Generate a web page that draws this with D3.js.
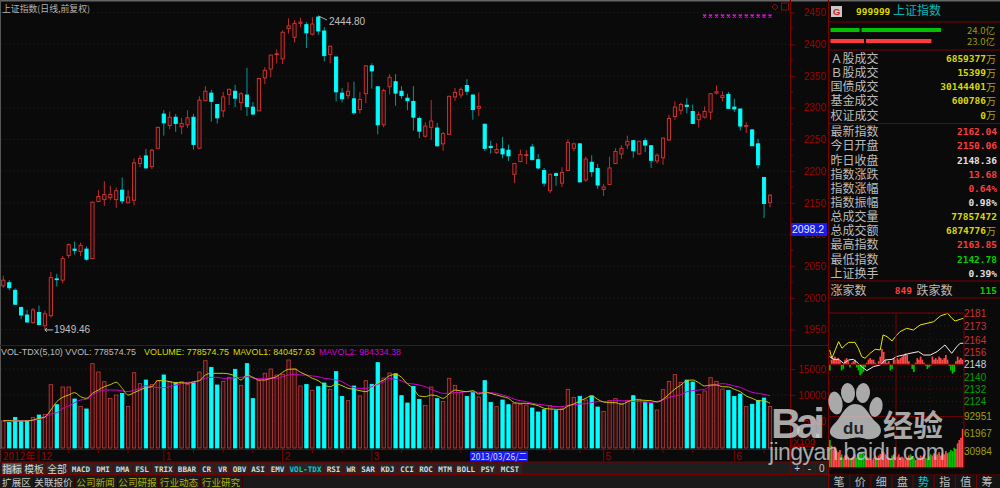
<!DOCTYPE html>
<html>
<head>
<meta charset="utf-8">
<style>
  html, body { margin: 0; padding: 0; background: #0a0a0a; overflow: hidden; }
  svg { display: block; }
  text { font-family: "Liberation Sans", sans-serif; }
  .cjk { font-family: "Noto Sans CJK SC", sans-serif; }
  .mono { font-family: "DejaVu Sans Mono", monospace; font-weight: bold; }
</style>
<script src="https://cdnjs.cloudflare.com/ajax/libs/d3/7.8.5/d3.min.js"></script>
</head>
<body>
<div id="chart"></div>
<script>
// Daily candles
const opens = [2019,2024,2012,1985,1973,1961,1977,1956,1972,2030,2028,2067,2077,2073,2077,2062,2152,2155,2158,2155,2170,2150,2154,2212,2224,2207,2236,2290,2272,2285,2270,2273,2285,2236,2311,2323,2305,2295,2321,2326,2308,2320,2301,2295,2347,2361,2384,2377,2425,2411,2433,2431,2416,2443,2421,2384,2380,2323,2319,2314,2297,2322,2366,2333,2273,2333,2341,2326,2315,2310,2283,2255,2269,2268,2243,2258,2317,2320,2335,2320,2299,2274,2239,2229,2235,2233,2195,2215,2225,2238,2218,2201,2169,2196,2181,2201,2236,2243,2186,2214,2204,2171,2179,2212,2227,2241,2248,2227,2248,2240,2216,2221,2249,2286,2296,2304,2294,2281,2285,2293,2323,2316,2321,2301,2298,2270,2265,2243,2190,2150.06];
const highs = [2035,2028,2015,1986,1981,1984,1988,1980,2041,2038,2066,2086,2089,2087,2081,2152,2170,2184,2177,2174,2190,2170,2220,2225,2235,2235,2270,2296,2294,2290,2284,2296,2290,2318,2334,2328,2306,2325,2330,2336,2325,2363,2309,2347,2364,2383,2392,2422,2441,2438,2442,2435,2443,2444.8,2427,2398,2380,2331,2340,2341,2325,2367,2370,2333,2330,2353,2353,2334,2322,2334,2286,2277,2312,2276,2262,2319,2331,2332,2345,2321,2324,2274,2248,2244,2254,2242,2213,2234,2233,2243,2227,2205,2196,2198,2206,2250,2245,2244,2223,2225,2211,2180,2223,2236,2241,2256,2249,2248,2252,2241,2228,2253,2289,2310,2308,2315,2305,2294,2302,2323,2335,2326,2325,2314,2298,2277,2266,2251,2191,2163.85];
const lows = [2016,2012,1989,1967,1961,1959,1957,1949.46,1969,2018,2023,2063,2068,2066,2059,2061,2151,2145,2154,2142,2148,2149,2146,2206,2204,2203,2235,2256,2266,2262,2258,2268,2234,2235,2310,2278,2275,2285,2304,2301,2296,2287,2288,2295,2337,2348,2370,2369,2417,2403,2427,2394,2414,2415,2373,2370,2310,2308,2314,2289,2291,2307,2330,2258,2269,2321,2303,2314,2296,2264,2252,2253,2249,2238,2232,2257,2311,2315,2320,2281,2287,2232,2228,2227,2220,2216,2181,2214,2211,2217,2203,2176,2165,2177,2175,2200,2231,2182,2183,2191,2172,2161,2178,2211,2219,2235,2221,2226,2230,2205,2212,2210,2248,2281,2289,2291,2274,2269,2283,2281,2321,2310,2298,2293,2264,2260,2240,2204,2126,2142.78];
const closes = [2028,2016,1990,1973,1962,1981,1958,1975,2032,2029,2062,2084,2075,2083,2061,2151,2160,2163,2163,2169,2153,2159,2213,2220,2205,2233,2269,2276,2285,2275,2275,2284,2242,2312,2326,2310,2284,2317,2329,2315,2322,2302,2290,2346,2359,2383,2385,2419,2429,2433,2435,2418,2432,2421,2382,2397,2325,2314,2326,2292,2313,2366,2358,2273,2327,2348,2323,2319,2311,2285,2263,2271,2279,2240,2259,2318,2324,2329,2326,2297,2302,2236,2237,2234,2227,2224,2212,2226,2226,2218,2205,2181,2195,2193,2198,2245,2243,2183,2219,2199,2178,2175,2205,2231,2236,2247,2232,2247,2241,2217,2225,2252,2283,2301,2305,2302,2275,2289,2294,2322,2325,2319,2299,2298,2271,2272,2240,2210,2149,2162.04];

// Volume in units of 100 (the X100 box on the axis)
const volumes = [5000,4740,5700,4870,5060,5700,6150,6280,11990,8140,11540,11540,9230,7820,7310,16030,14420,12560,9360,10000,10320,7820,14290,12180,12880,11990,12760,13850,12560,12370,12560,12050,12370,14420,16600,15320,11920,12630,13400,14940,11860,16030,9300,12760,14170,15000,13850,13970,16730,15000,11730,12050,10900,11600,12310,11090,14490,9740,8910,11730,9810,12760,12050,16220,13270,14230,14100,9870,8460,11670,9170,8010,11540,9300,8780,13210,11860,10450,9740,10450,9620,12760,8590,7760,9040,8140,8400,8210,8080,7500,6730,7180,7950,6990,7310,11090,9550,9740,9040,9810,7690,6860,8910,9300,8400,8970,9870,9170,8650,8330,7120,11030,12630,13910,12440,12880,12500,10130,10770,13330,12630,11150,10900,9740,10190,7760,8210,8970,9420,7785.75];
const mavol1 = [5060,5060,5000,5000,5000,5190,5510,5770,7120,8720,9550,10000,10450,9680,9360,10320,10960,11600,11990,12440,11280,10000,10450,10960,11410,11600,12760,12760,12560,12370,12370,12240,12560,12760,13850,14170,14170,14170,14040,13650,12880,13850,13400,12880,12880,13210,13530,14360,14940,15000,14360,13850,13210,12760,11920,11600,12120,11790,11280,11090,10830,10640,11280,12370,12880,13720,13970,13400,12120,11280,9810,9680,10000,9810,9360,10190,10960,10770,10640,10830,10190,10510,10320,10000,9680,9360,8530,8400,8400,8210,7950,7440,7310,7240,7240,7880,8270,8850,9360,9870,9170,8650,8530,8530,8210,8650,9100,9040,8970,8910,8650,9170,10130,11150,11920,12760,12880,12370,11730,11920,11920,11600,11540,11090,10640,9810,9360,8910,8850,8404.58];
const mavol2 = [5060,5060,5060,5060,5060,5130,5320,5710,6350,6600,7440,7880,8530,9040,9170,10000,10640,10960,10960,10960,10770,10640,10960,11280,11790,11600,11410,11410,11600,11920,12180,12440,12440,12760,13210,13400,13400,13210,13210,13330,13400,13530,13270,13140,13140,13210,13210,13530,13850,13970,13850,13850,13650,13530,13210,13080,12880,12560,11920,11410,11280,11280,11600,12050,12560,13210,13010,12760,12240,12120,11920,11600,11090,10640,10320,10320,10450,10510,10640,10640,10510,10510,10450,10320,10000,9680,9170,8910,8720,8400,8210,8080,7880,7760,7760,8010,8140,8270,8330,8530,8720,8720,8850,8910,8910,8850,8780,8720,8650,8590,8780,9040,9550,9810,10060,10640,10830,10960,11090,11790,12050,12180,12050,11730,11470,10960,10510,10320,10130,9843.34];

// Axis labels and x positions on the candle index
const priceTicks = [2450,2400,2350,2300,2250,2200,2150,2100,2050,2000,1950];
const priceMinorTicks = [2425,2375,2325,2275,2225,2175,2125,2075,2025,1975];
const volumeTicks = [15000,10000,5000];
const monthLabels = ['12','1','2','3','5','6'];
const monthIdx = [6,27,47,62,101,123];
const weekIdx = [11,16,21,32,37,42,52,57,67,72,77,87,92,97,106,111,116,128];

// Magenta marks at the upper right of the price panel
const markIdx = [118,119,120,121,122,123,124,125,126,127,128,129];

// Side panel
const codeName = '上证指数';
const topLabels = ['Ａ股成交','Ｂ股成交','国债成交','基金成交','权证成交'];
const topValues = ['6859377','15399','30144401','600786','0'];
const statLabels = ['最新指数','今日开盘','昨日收盘','指数涨跌','指数涨幅','指数振幅','总成交量','总成交额','最高指数','最低指数','上证换手'];
const statValues = ['2162.04','2150.06','2148.36','13.68','0.64%','0.98%','77857472','6874776','2163.85','2142.78','0.39%'];
const statKinds = ['up','up','flat','up','up','flat','vol','volw','up','down','flat'];

// Intraday panel
const yellowMin = [2,6,12,18,24,30,36,47,53,59,65,74,83,92,97,104,113,119,127,139,151,163,175,187,199,212,219,225,234,240];
const yellowVal = [2157.3,2151.9,2157.3,2162.7,2158.4,2160.5,2162.2,2162.2,2158.4,2153,2151.9,2155.1,2157.7,2157.3,2167,2165.9,2163.1,2165.9,2169.1,2171.3,2170.2,2173.5,2174.5,2175.6,2179.3,2181,2177.8,2176,2177.1,2177.8];
const whiteMin = [2,9,18,27,36,44,53,59,68,80,92,101,113,121,133,145,160,169,181,193,207,219,228,234,240];
const whiteVal = [2153,2151.2,2151.2,2148.6,2150.8,2151.2,2148.6,2146.5,2143.9,2146.5,2147.6,2150.8,2151.2,2153,2154,2155.1,2156.2,2154,2154,2156.2,2160.5,2155.1,2159.4,2161.6,2161.6];
const flowBars = [-4,3,4,5,3,4,2,-4,-3,3,4,2,-2,1,2,3,-2,-4,-7,-6,-5,-2,1,3,4,3,3,1,0,2,5,10,8,3,1,2,-4,-3,4,3,4,3,4,5,6,7,6,2,0,-3,-5,1,4,3,5,3,1,-1,-3,-2,-1,5,3,4,3,5,4,3,4,6,3,-1,-4,-6,-5,2,5,3,4,3];
const miniVolume = [50,40,33,38,30,28,32,24,18,22,24,20,14,18,20,24,18,22,25,28,26,22,20,18,16,14,18,20,16,22,25,30,28,24,20,18,16,22,24,18,20,24,16,20,18,15,18,22,24,20,18,14,16,18,22,20,24,18,16,20,24,22,26,20,24,28,22,26,24,30,26,28,32,30,36,34,44,50,54,70];
const miniPriceLabels = [2181,2173,2164,2156,2148,2140,2132,2124];
const miniVolLabels = [92951,61967,30984];
const miniTabs = ['笔','价','细','盘','势','指','值','筹'];

// Buttons below the chart
const tabNames = ['指标','模板','全部','MACD','DMI','DMA','FSL','TRIX','BBAR','CR','VR','OBV','ASI','EMV','VOL-TDX','RSI','WR','SAR','KDJ','CCI','ROC','MTM','BOLL','PSY','MCST'];
const linkNames = ['扩展区','关联报价','公司新闻','公司研报','行业动态','行业研究'];

const width = 1000, height = 488;
const axisX = 790, sideX = 828;
const lineRed = '#7a0000', gridRed = '#5a0a0a', labelRed = '#a00000';
const candleRed = '#d83434', cyan = '#00ffff', wickCyan = '#009a9a';
const isUp = i => closes[i] >= opens[i];

const svg = d3.select('#chart').append('svg')
    .attr('width', width)
    .attr('height', height);

svg.append('rect').attr('width', width).attr('height', height).attr('fill', '#0a0a0a');
svg.append('rect').attr('width', width).attr('height', 1.5).attr('fill', '#666');
svg.append('rect').attr('width', 1).attr('height', 474).attr('fill', '#555');

// Scales
const xScale = d3.scaleLinear().domain([0, opens.length - 1]).range([3.3, 770]);
const yPrice = d3.scaleLinear().domain([1950, 2450]).range([329.6, 12.6]);
const yVolume = d3.scaleLinear().domain([0, 15000]).range([447, 369]);

// Grid
const grid = svg.append('g').attr('stroke', gridRed).attr('stroke-dasharray', '1,3');
grid.selectAll('.p').data(priceTicks).join('line').attr('class', 'p')
    .attr('x1', 1).attr('x2', axisX).attr('y1', d => yPrice(d)).attr('y2', d => yPrice(d));
grid.selectAll('.v').data(volumeTicks).join('line').attr('class', 'v')
    .attr('x1', 1).attr('x2', axisX).attr('y1', d => yVolume(d)).attr('y2', d => yVolume(d));

// Candles
const candles = svg.append('g').selectAll('g').data(d3.range(opens.length)).join('g');
candles.append('line')
    .attr('x1', i => xScale(i)).attr('x2', i => xScale(i))
    .attr('y1', i => yPrice(highs[i])).attr('y2', i => yPrice(lows[i]))
    .attr('stroke', i => isUp(i) ? '#c42c2c' : wickCyan)
    .attr('stroke-width', 1);
candles.append('rect')
    .attr('x', i => xScale(i) - 1.6)
    .attr('width', 3.2)
    .attr('y', i => yPrice(Math.max(opens[i], closes[i])))
    .attr('height', i => Math.max(0.8, Math.abs(yPrice(opens[i]) - yPrice(closes[i]))))
    .attr('fill', i => isUp(i) ? '#220a0a' : cyan)
    .attr('stroke', i => isUp(i) ? candleRed : cyan)
    .attr('stroke-width', 0.9);

// Extremes
svg.append('text').attr('x', 329).attr('y', 25).attr('fill', '#c0c0c0').attr('font-size', 10).text('2444.80');
svg.append('path').attr('d', `M${xScale(53)},${yPrice(2444.8)}L327,20`).attr('stroke', '#aaa').attr('fill', 'none');
svg.append('text').attr('x', 54).attr('y', 333).attr('fill', '#c0c0c0').attr('font-size', 10).text('1949.46');
svg.append('path').attr('d', `M${xScale(7)},${yPrice(1949.46)}H53M${xScale(7)},${yPrice(1949.46)}l2,-2M${xScale(7)},${yPrice(1949.46)}l2,2`)
    .attr('stroke', '#bbb').attr('fill', 'none');

svg.append('g').selectAll('path').data(markIdx).join('path')
    .attr('d', i => `M${xScale(i) - 1.5},14.5l3,3m0,-3l-3,3`)
    .attr('stroke', '#ff00ff').attr('stroke-width', 1.4);
svg.append('path').attr('d', 'M775,4l3,3l-3,3l-3,-3z').attr('stroke', '#7a1010').attr('fill', 'none');
svg.append('rect').attr('x', 781.5).attr('y', 3).attr('width', 7).attr('height', 7).attr('stroke', '#7a1010').attr('fill', 'none');

svg.append('text').attr('class', 'cjk').attr('x', 2).attr('y', 11.5).attr('font-size', 9)
    .attr('textLength', 88).attr('lengthAdjust', 'spacingAndGlyphs').attr('fill', '#b4b4b4').text('上证指数(日线,前复权)');

// Volume panel
svg.append('line').attr('x1', 0).attr('x2', sideX).attr('y1', 345.5).attr('y2', 345.5).attr('stroke', lineRed);
const bars = svg.append('g').selectAll('rect').data(volumes).join('rect')
    .attr('x', (d, i) => xScale(i) - 1.7)
    .attr('width', 3.4)
    .attr('y', d => yVolume(d))
    .attr('height', d => yVolume(0) + 1 - yVolume(d))
    .attr('fill', (d, i) => isUp(i) ? '#300e0e' : cyan)
    .attr('stroke', (d, i) => isUp(i) ? '#c83c3c' : cyan)
    .attr('stroke-width', 0.8);

const maLine = d3.line().x((d, i) => xScale(i)).y(d => yVolume(d)).curve(d3.curveMonotoneX);
svg.append('path').datum(mavol2).attr('d', maLine).attr('fill', 'none').attr('stroke', '#d000d0').attr('stroke-width', 1);
svg.append('path').datum(mavol1).attr('d', maLine).attr('fill', 'none').attr('stroke', '#c8c800').attr('stroke-width', 1);

const volTitles = [['VOL-TDX(5,10)  VVOL: 778574.75', 1, 135, '#bdbdbd'], ['VOLUME: 778574.75', 144, 85, '#d8d800'],
    ['MAVOL1: 840457.63', 233, 82, '#d8d800'], ['MAVOL2: 984334.38', 319, 82, '#d000d0']];
svg.append('g').selectAll('text').data(volTitles).join('text')
    .attr('x', d => d[1]).attr('y', 355).attr('font-size', 9.4)
    .attr('textLength', d => d[2]).attr('lengthAdjust', 'spacingAndGlyphs')
    .attr('fill', d => d[3]).text(d => d[0]);

// Date strip
svg.append('line').attr('x1', 0).attr('x2', sideX).attr('y1', 449.5).attr('y2', 449.5).attr('stroke', lineRed);
svg.append('rect').attr('x', 1).attr('y', 450).attr('width', 37).attr('height', 12).attr('fill', '#0a0a0a').attr('stroke', '#4a0000');
svg.append('text').attr('class', 'cjk').attr('x', 3).attr('y', 460).attr('font-size', 10).attr('fill', labelRed).text('2012年');
const months = svg.append('g').selectAll('g').data(monthLabels).join('g');
months.append('line')
    .attr('x1', (d, i) => xScale(monthIdx[i])).attr('x2', (d, i) => xScale(monthIdx[i]))
    .attr('y1', 450).attr('y2', 461).attr('stroke', lineRed);
months.append('text')
    .attr('x', (d, i) => xScale(monthIdx[i]) + 2).attr('y', 460)
    .attr('font-size', 10).attr('fill', labelRed).text(d => d);
svg.append('g').selectAll('line').data(weekIdx).join('line')
    .attr('x1', i => xScale(i)).attr('x2', i => xScale(i))
    .attr('y1', 450).attr('y2', 453).attr('stroke', lineRed);
svg.append('rect').attr('x', 470).attr('y', 451).attr('width', 58).attr('height', 10.5).attr('fill', '#1a1aee');
svg.append('text').attr('class', 'cjk').attr('x', 471).attr('y', 460).attr('font-size', 9.5)
    .attr('textLength', 56).attr('lengthAdjust', 'spacingAndGlyphs').attr('fill', '#d8d8ff').text('2013/03/26/二');

// Price and volume axes
const priceAxis = d3.axisRight(yPrice).tickValues(priceTicks).tickSize(5).tickFormat(d => d);
const priceG = svg.append('g').attr('transform', `translate(${axisX},0)`).call(priceAxis);
const volumeAxis = d3.axisRight(yVolume).tickValues(volumeTicks).tickSize(5).tickFormat(d => d);
const volumeG = svg.append('g').attr('transform', `translate(${axisX},0)`).call(volumeAxis);
[priceG, volumeG].forEach(g => {
    g.select('.domain').remove();
    g.selectAll('line').attr('stroke', lineRed);
    g.selectAll('text').attr('x', 36).attr('text-anchor', 'end')
        .attr('font-size', 10).attr('font-family', '"Liberation Sans"').attr('fill', labelRed);
});
svg.append('g').selectAll('line').data(priceMinorTicks).join('line')
    .attr('x1', axisX).attr('x2', axisX + 3)
    .attr('y1', d => yPrice(d)).attr('y2', d => yPrice(d)).attr('stroke', lineRed);
svg.append('line').attr('x1', axisX + .5).attr('x2', axisX + .5).attr('y1', 0).attr('y2', 474).attr('stroke', lineRed);
svg.append('line').attr('x1', sideX + .5).attr('x2', sideX + .5).attr('y1', 0).attr('y2', 488).attr('stroke', lineRed);

svg.append('rect').attr('x', 791).attr('y', 223).attr('width', 36).attr('height', 13).attr('fill', '#1a1aee');
svg.append('text').attr('x', 792).attr('y', 233).attr('font-size', 10.5).attr('fill', '#e8e8ff').text('2098.2');

svg.append('rect').attr('x', 792).attr('y', 437).attr('width', 22).attr('height', 9.5).attr('fill', 'none').attr('stroke', lineRed);
svg.append('text').attr('x', 793).attr('y', 445).attr('font-size', 9.5).attr('fill', labelRed).text('X100');

// Side panel
svg.append('rect').attr('x', 831).attr('y', 6).attr('width', 11).attr('height', 11).attr('fill', '#c8c8c8');
svg.append('text').attr('x', 833).attr('y', 15).attr('font-size', 9.5).attr('font-weight', 'bold').attr('fill', '#d02020').text('G');
svg.append('text').attr('class', 'mono').attr('x', 856).attr('y', 14.5).attr('font-size', 9.5).attr('fill', '#d8d800').text('999999');
svg.append('text').attr('class', 'cjk').attr('x', 893).attr('y', 15).attr('font-size', 12).attr('fill', '#00b8b8').text(codeName);

[22, 50, 123.5, 281, 298].forEach(y => {
    svg.append('line').attr('x1', sideX).attr('x2', width).attr('y1', y).attr('y2', y).attr('stroke', lineRed);
});

// Capital bars
const capitalScale = d3.scaleLinear().domain([0, 24]).range([830.5, 941]);
[[24, '#00c000', 30, '24.0亿'], [23, '#ff3c3c', 41, '23.0亿']].forEach(([v, color, y, label]) => {
    svg.append('rect').attr('x', capitalScale(0)).attr('y', y - 2).attr('height', 4)
        .attr('width', capitalScale(v) - capitalScale(0) - (v === 23 ? 5 : 0)).attr('fill', color);
    svg.append('rect').attr('x', v === 23 ? 864 : 859.5).attr('y', y - 2).attr('height', 4).attr('width', 2).attr('fill', '#0a0a0a');
    svg.append('text').attr('class', 'cjk').attr('x', 995).attr('y', y + 4).attr('text-anchor', 'end')
        .attr('font-size', 9.5).attr('fill', '#9a9a00').text(label);
});

const statColor = { up: '#ff3c3c', down: '#00d000', flat: '#e0e0e0', vol: '#d8d800', volw: '#d8d800' };
const rowLabel = (y, t) => svg.append('text').attr('class', 'cjk').attr('x', 830.5).attr('y', y + 4.5)
    .attr('font-size', 12).attr('fill', '#bcbcbc').text(t);
const rowValue = (y, t, color, xRight) => svg.append('text').attr('class', 'mono').attr('x', xRight).attr('y', y + 3.5)
    .attr('text-anchor', 'end').attr('font-size', 9.5).attr('fill', color).text(t);
const wan = (y) => svg.append('text').attr('class', 'cjk').attr('x', 996).attr('y', y + 4)
    .attr('text-anchor', 'end').attr('font-size', 10).attr('fill', '#a8a800').text('万');

const topRow = d3.scalePoint().domain(topLabels).range([58.7, 115]);
topLabels.forEach((t, i) => {
    const y = topRow(t);
    rowLabel(y, t);
    rowValue(y, topValues[i], '#d8d800', 986);
    wan(y);
});
const statRow = d3.scalePoint().domain(statLabels).range([131.7, 273.3]);
statLabels.forEach((t, i) => {
    const y = statRow(t);
    rowLabel(y, t);
    rowValue(y, statValues[i], statColor[statKinds[i]], statKinds[i] === 'volw' ? 986 : 997);
    if (statKinds[i] === 'volw') wan(y);
});
rowLabel(290, '涨家数');
rowValue(290, '849', '#ff3c3c', 912);
rowLabel(290, '跌家数').attr('x', 916.5);
rowValue(290, '115', '#00d000', 997);

// Intraday chart
const miniX = d3.scaleLinear().domain([0, 240]).range([828.5, 963.5]);
const miniY = d3.scaleLinear().domain([2148, 2181]).range([364.3, 313.3]);
const miniV = d3.scaleLinear().domain([0, 92951]).range([467.7, 416.2]);
const flowStep = d3.scaleBand().domain(d3.range(flowBars.length)).range([829, 963.5]);

const miniGrid = svg.append('g').attr('stroke', gridRed).attr('stroke-dasharray', '1,3');
miniGrid.selectAll('.h').data(miniPriceLabels).join('line').attr('class', 'h')
    .attr('x1', sideX).attr('x2', 964).attr('y1', d => miniY(d)).attr('y2', d => miniY(d));
miniGrid.selectAll('.w').data([60, 180]).join('line').attr('class', 'w')
    .attr('x1', d => miniX(d)).attr('x2', d => miniX(d)).attr('y1', 313).attr('y2', 468);

const mini = svg.append('g');
mini.selectAll('.flow').data(flowBars).join('rect').attr('class', 'flow')
    .attr('x', (d, i) => flowStep(i)).attr('width', flowStep.bandwidth())
    .attr('y', d => d > 0 ? miniY(2148 + d) : miniY(2148))
    .attr('height', d => Math.abs(miniY(2148 + d) - miniY(2148)))
    .attr('fill', d => d > 0 ? '#ff4848' : '#00c000');
mini.selectAll('.mv').data(miniVolume).join('rect').attr('class', 'mv')
    .attr('x', (d, i) => flowStep(i)).attr('width', flowStep.bandwidth())
    .attr('y', d => miniV(d * 1000))
    .attr('height', d => miniV(0) - miniV(d * 1000))
    .attr('fill', (d, i) => flowBars[i] > 0 ? '#ff4848' : '#00c000');

const miniLine = mins => d3.line().x((d, i) => miniX(mins[i])).y(d => miniY(d));
mini.append('path').attr('d', miniLine(yellowMin)(yellowVal)).attr('fill', 'none').attr('stroke', '#e8e800');
mini.append('path').attr('d', miniLine(whiteMin)(whiteVal)).attr('fill', 'none').attr('stroke', '#f0f0f0');

[313, 364.3, 416.7, 467.7, 475].forEach(y => {
    svg.append('line').attr('x1', sideX).attr('x2', y < 470 ? 964 : width).attr('y1', y).attr('y2', y).attr('stroke', lineRed);
});
svg.append('line').attr('x1', 964).attr('x2', 964).attr('y1', 313).attr('y2', 468).attr('stroke', lineRed);
svg.append('line').attr('x1', miniX(120)).attr('x2', miniX(120)).attr('y1', 313).attr('y2', 468).attr('stroke', lineRed);

svg.append('g').selectAll('text').data(miniPriceLabels).join('text')
    .attr('x', 964).attr('y', d => miniY(d) + 4).attr('font-size', 10)
    .attr('fill', d => d > 2148 ? '#c83232' : d === 2148 ? '#d0d0d0' : '#00a000')
    .text(d => d);
svg.append('g').selectAll('text').data(miniVolLabels).join('text')
    .attr('x', 964).attr('y', d => miniV(d) + 4).attr('font-size', 10).attr('fill', '#a0a000')
    .text(d => d);

// Intraday tabs
const tabX = d3.scalePoint().domain(miniTabs).range([839, 987]);
svg.append('rect').attr('x', sideX + 1).attr('y', 475.5).attr('width', width - sideX).attr('height', 13).attr('fill', '#141414');
svg.append('g').selectAll('text').data(miniTabs).join('text')
    .attr('class', 'cjk').attr('x', d => tabX(d)).attr('y', 486).attr('text-anchor', 'middle')
    .attr('font-size', 11).attr('fill', d => d === '势' ? '#00d0d0' : '#c0c0c0').text(d => d);
svg.append('g').selectAll('line').data(miniTabs.slice(1)).join('line')
    .attr('x1', d => tabX(d) - 10.5).attr('x2', d => tabX(d) - 10.5).attr('y1', 475).attr('y2', 488).attr('stroke', lineRed);

// Lower button rows
const tabRight = [22,45,68,93,112,132,151,175,198,214,230,248,267,287,323,343,358,377,397,416,435,454,477,497,522];
svg.append('rect').attr('x', 0).attr('y', 462).attr('width', sideX).attr('height', 12).attr('fill', '#1e1e1e');
svg.append('rect').attr('x', 0).attr('y', 474.5).attr('width', sideX).attr('height', 14).attr('fill', '#1a1a1a');
svg.append('line').attr('x1', 0).attr('x2', sideX).attr('y1', 462).attr('y2', 462).attr('stroke', lineRed);
svg.append('line').attr('x1', 0).attr('x2', sideX).attr('y1', 474.5).attr('y2', 474.5).attr('stroke', lineRed);

const tabs = svg.append('g').selectAll('g').data(tabNames).join('g');
tabs.append('rect')
    .attr('x', (d, i) => i ? tabRight[i - 1] + 1 : 2)
    .attr('width', (d, i) => tabRight[i] - (i ? tabRight[i - 1] + 1 : 2))
    .attr('y', 463).attr('height', 11)
    .attr('fill', d => d === '指标' ? '#5a5a5a' : '#262626')
    .attr('stroke', lineRed).attr('stroke-width', .6);
tabs.append('text')
    .attr('class', (d, i) => i < 3 ? 'cjk' : 'mono')
    .attr('x', (d, i) => ((i ? tabRight[i - 1] + 1 : 2) + tabRight[i]) / 2)
    .attr('y', (d, i) => i < 3 ? 472.5 : 471.5)
    .attr('text-anchor', 'middle')
    .attr('font-size', (d, i) => i < 3 ? 9.8 : 7.6)
    .attr('fill', d => d === 'VOL-TDX' ? '#00d0d0' : '#d8d8d8')
    .text(d => d);

const linkRight = [33,74,117,158,200,242];
const links = svg.append('g').selectAll('g').data(linkNames).join('g');
links.append('line')
    .attr('x1', (d, i) => linkRight[i] + .5).attr('x2', (d, i) => linkRight[i] + .5)
    .attr('y1', 475).attr('y2', 488).attr('stroke', '#3a0000');
links.append('text')
    .attr('class', 'cjk')
    .attr('x', (d, i) => ((i ? linkRight[i - 1] : 0) + linkRight[i]) / 2)
    .attr('y', 486).attr('text-anchor', 'middle').attr('font-size', 9.6)
    .attr('fill', (d, i) => i < 2 ? '#c8c8c8' : '#b0b000')
    .text(d => d);

// + - 0 buttons
const zoomBtns = ['+', '-', '0'];
const btnX = d3.scaleBand().domain(zoomBtns).range([791, 828]);
const btn = svg.append('g').selectAll('g').data(zoomBtns).join('g');
btn.append('rect').attr('x', d => btnX(d)).attr('width', btnX.bandwidth()).attr('y', 462).attr('height', 12)
    .attr('fill', '#1e1e1e').attr('stroke', lineRed);
btn.append('text').attr('x', d => btnX(d) + btnX.bandwidth() / 2).attr('y', 471.5).attr('text-anchor', 'middle')
    .attr('font-size', 10).attr('fill', '#c8c8c8').text(d => d);

// Baidu watermark
const mark = svg.append('g').attr('fill', 'rgba(205,205,205,0.82)');
mark.append('text').attr('x', 771).attr('y', 438).attr('font-size', 42).attr('font-weight', 'bold').attr('textLength', 54).text('Bai');
[[835.5, 403, 7, 11.5, -10], [848, 393, 7, 10, -5], [863, 393, 7, 10, 5], [876, 407, 6.5, 10, 12]].forEach(([cx, cy, rx, ry, a]) => {
    mark.append('ellipse').attr('rx', rx).attr('ry', ry).attr('transform', `translate(${cx},${cy}) rotate(${a})`);
});
mark.append('path').attr('d', 'M855,404 C844,405 842,417 834,424 C824,434 834,441 848,439 C856,437 860,437 866,439 C880,441 886,430 876,422 C868,415 866,404 855,404Z');
svg.append('text').attr('x', 843).attr('y', 434).attr('font-size', 17).attr('fill', '#222').attr('font-weight', 'bold').text('du');
mark.append('text').attr('class', 'cjk').attr('x', 883).attr('y', 436).attr('font-size', 30).attr('font-weight', 'bold').attr('textLength', 60).text('经验');
mark.append('text').attr('x', 769).attr('y', 460).attr('font-size', 23).attr('textLength', 176).text('jingyan.baidu.com');
</script>
</body>
</html>
